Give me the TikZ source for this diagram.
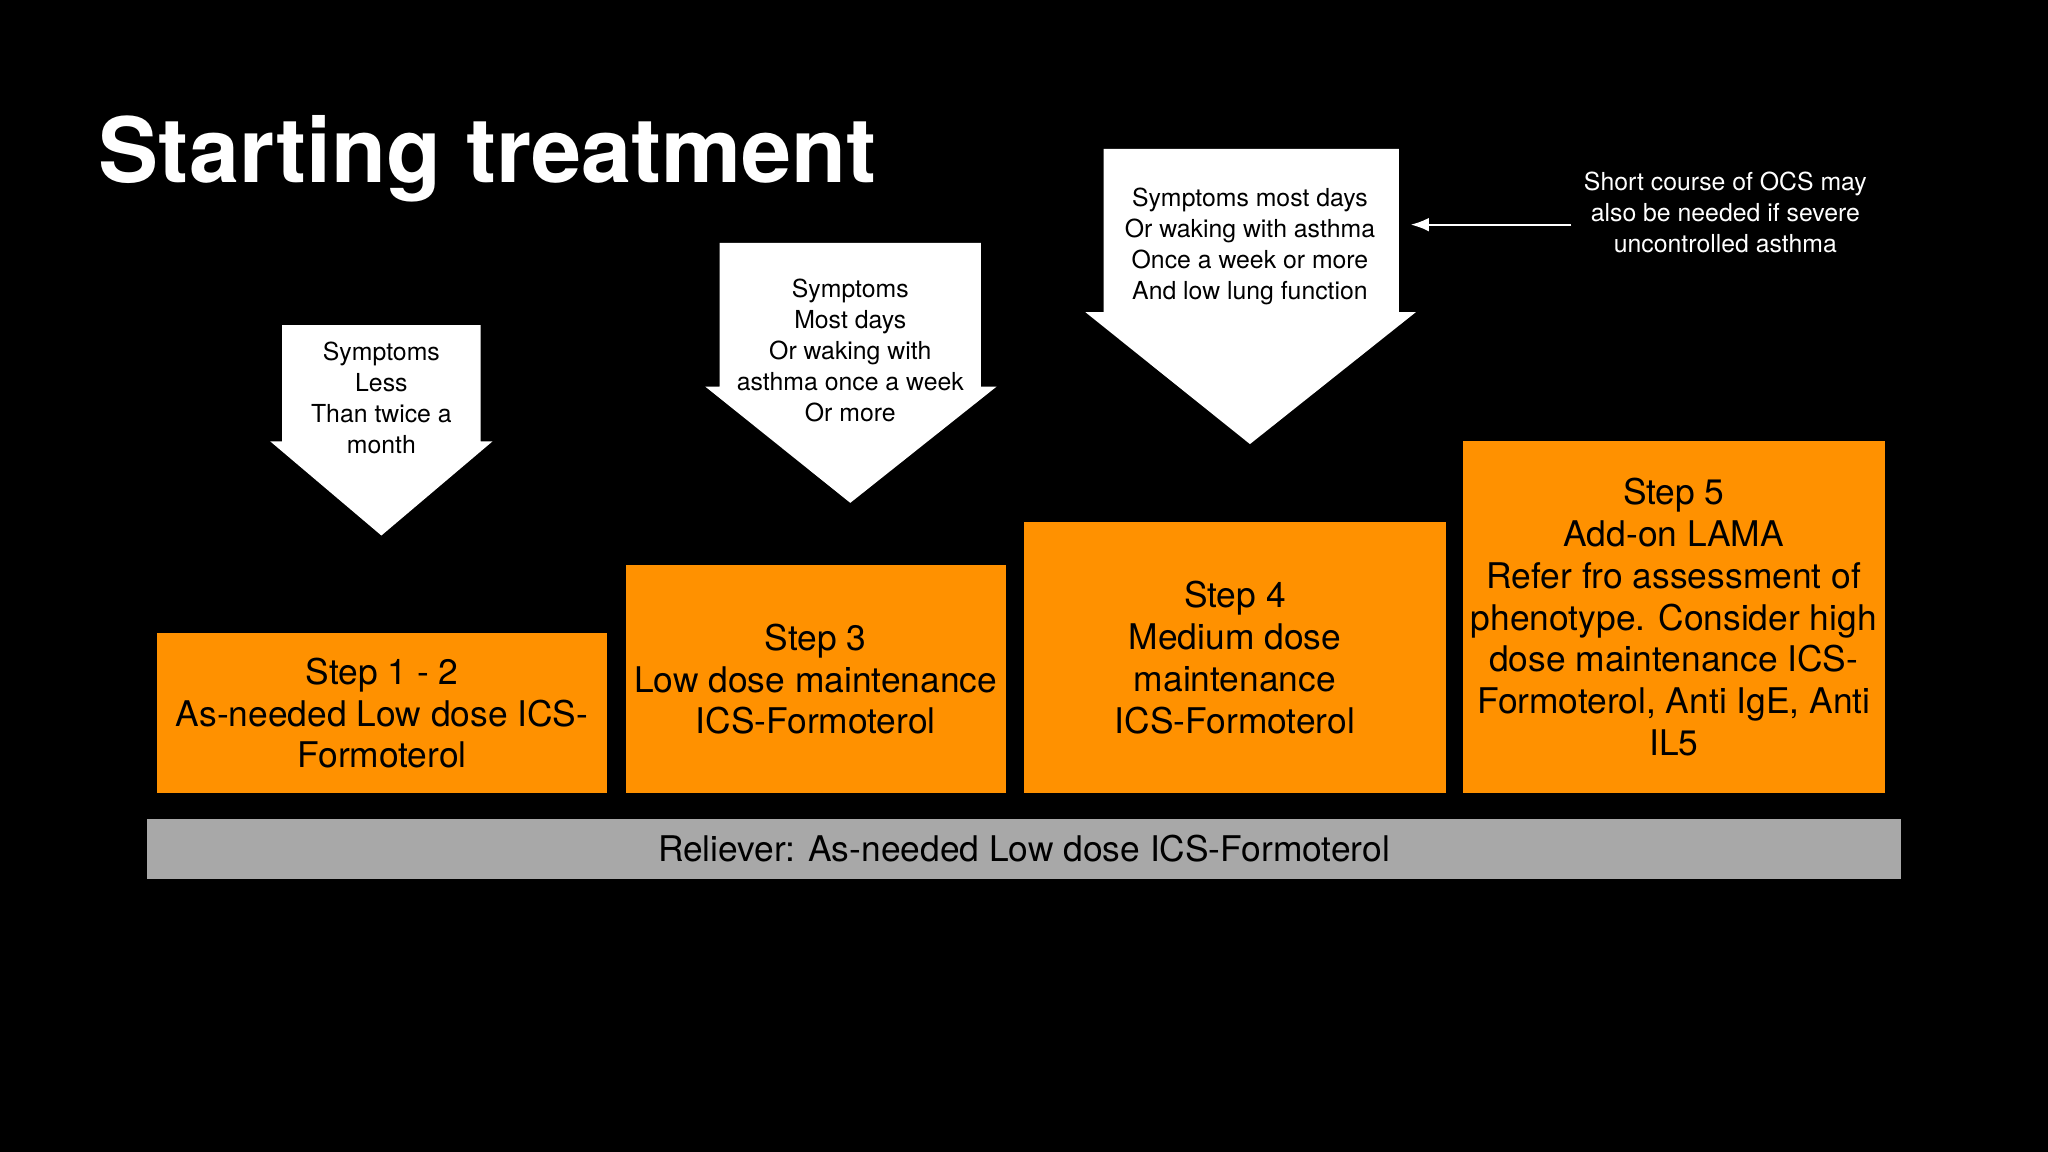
\documentclass[tikz,border=0pt]{standalone}
\usepackage{fontspec}
\usetikzlibrary{arrows.meta}
\setmainfont{TeX Gyre Heros}
\definecolor{org}{HTML}{FF9100}
\definecolor{gry}{HTML}{A8A8A8}
\begin{document}
\begin{tikzpicture}[x=0.01cm,y=-0.01cm,
  arr/.style={fill=white,draw=none},
  atxt/.style={align=center,font=\fontsize{5.4}{6.75}\selectfont,text=black,inner sep=0},
  box/.style={fill=org,draw=none,align=center,font=\fontsize{7.7}{9.1}\selectfont,text=black,inner sep=0},
]
\fill[black] (0,0) rectangle (1568,882);
\useasboundingbox (0,0) rectangle (1568,882);
\node[anchor=base west,text=white,font=\fontsize{19.6}{24}\selectfont\bfseries,inner sep=0] (title) at (75,140) {Starting treatment};
% arrows
\fill[arr] (216,249)--(368,249)--(368,338)--(377,338)--(292,410)--(207,338)--(216,338)--cycle;
\node[atxt] (t1) at (292,305) {Symptoms\\Less\\Than twice a\\month};
\fill[arr] (551,186)--(751,186)--(751,296)--(763,296)--(651,385)--(540,296)--(551,296)--cycle;
\node[atxt] (t2) at (651,268) {Symptoms\\Most days\\Or waking with\\asthma once a week\\Or more};
\fill[arr] (845,114)--(1071,114)--(1071,239)--(1084,239)--(957,340)--(831,239)--(845,239)--cycle;
\node[atxt] (t3) at (957,189) {Symptoms most days\\Or waking with asthma\\Once a week or more\\And low lung function};
\coordinate (a3e) at (1080,172);
\node[atxt,text=white] (side) at (1321,163) {Short course of OCS may\\also be needed if severe\\uncontrolled asthma};
\coordinate (sidel) at (1203,172);
\draw[white,line width=0.5pt,-{Latex[length=4pt,width=3pt]}] (sidel) -- (a3e);
% boxes
\node[box,minimum width=3.45cm,minimum height=1.22cm] (b1) at (292.5,546) {Step 1 - 2\\As-needed Low dose ICS-\\Formoterol};
\node[box,minimum width=2.91cm,minimum height=1.74cm] (b2) at (624.5,520) {Step 3\\Low dose maintenance\\ICS-Formoterol};
\node[box,minimum width=3.23cm,minimum height=2.07cm] (b3) at (945.5,503.5) {Step 4\\Medium dose\\maintenance\\ICS-Formoterol};
\node[box,minimum width=3.23cm,minimum height=2.69cm] (b4) at (1281.5,472.5) {Step 5\\Add-on LAMA\\Refer fro assessment of\\phenotype. Consider high\\dose maintenance ICS-\\Formoterol, Anti IgE, Anti\\IL5};
\node[box,fill=gry,minimum width=13.42cm,minimum height=0.46cm] (rel) at (784,650) {Reliever: As-needed Low dose ICS-Formoterol};
\end{tikzpicture}
\end{document}
